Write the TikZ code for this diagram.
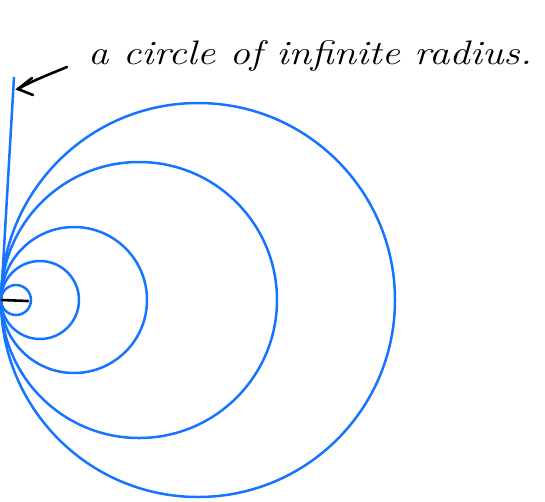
\documentclass[tikz,border=0pt]{standalone}
\usetikzlibrary{arrows.meta}
\definecolor{cblue}{RGB}{22,116,255}
\begin{document}
\begin{tikzpicture}[x=1pt,y=-1pt,
  circ/.style={draw=cblue,line width=2.5pt},
  ink/.style={draw=black,line width=2.6pt,line cap=round}]
\useasboundingbox (0,0) rectangle (545,501);
\coordinate (T) at (1,300);
\draw[circ] (16,300) circle (15);
\draw[circ] (40,300) circle (39);
\draw[circ] (74,300) circle (73);
\draw[circ] (139,300) circle (138);
\draw[circ] (198,300) circle (197);
\coordinate (L) at (14,77);
\draw[circ] (T) -- (L);
\draw[ink] (2,300) -- (28,301);
\node[anchor=base west,inner sep=0pt,xscale=1.2,font=\fontsize{34}{40}\selectfont\itshape] (lab) at (88,64) {a circle of infinite radius.};
\coordinate (A) at (18,89);
\draw[ink] (67,67) .. controls (45,76) and (30,82) .. (A);
\draw[ink] (32,78) -- (A) -- (33,95);
\end{tikzpicture}
\end{document}
